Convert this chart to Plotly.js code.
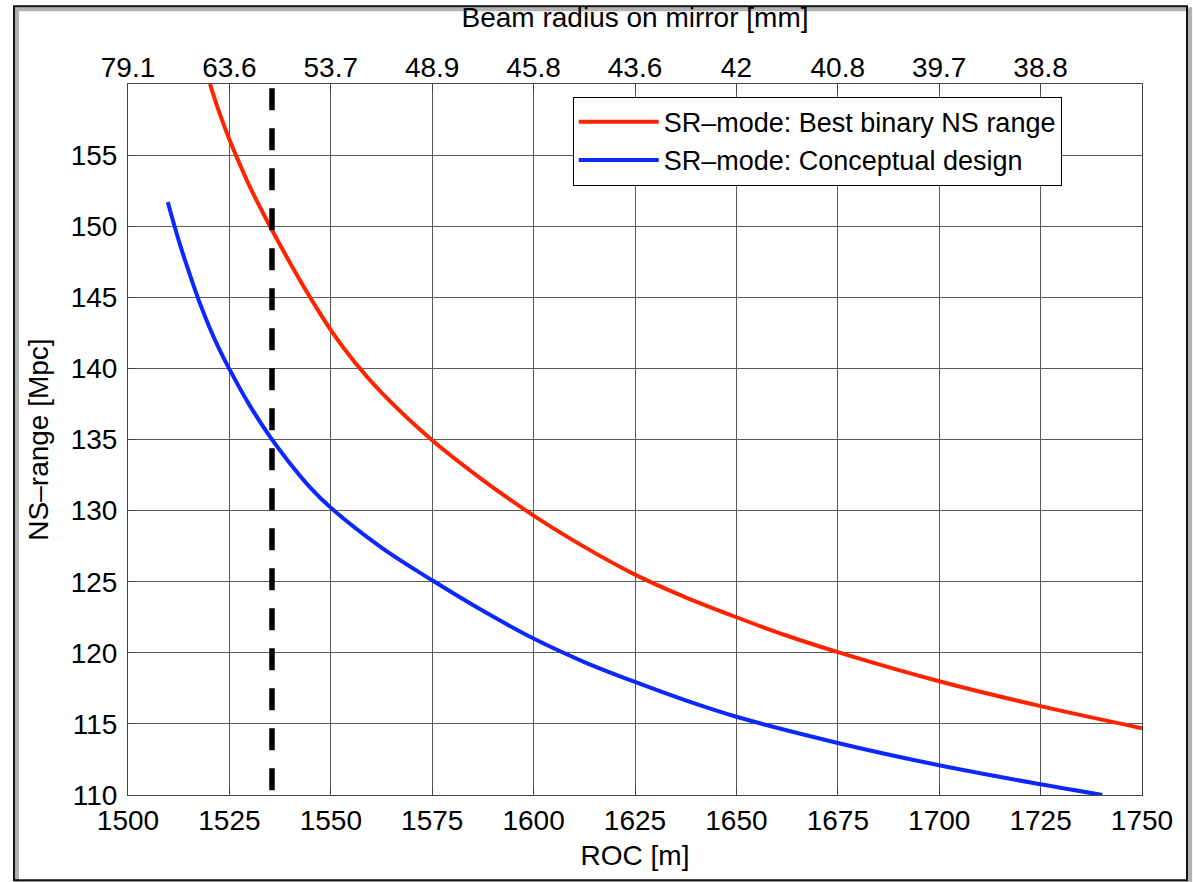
<!DOCTYPE html>
<html><head><meta charset="utf-8">
<script src="https://cdn.plot.ly/plotly-3.0.1.min.js"></script>
<style>html,body{margin:0;padding:0;background:#fff}</style>
</head><body><div id="chart" style="width:1193px;height:882px"></div>
<script>
// ROC [m] vs NS-range [Mpc]
const rocBest = [1520.2, 1522.5, 1525, 1527.5, 1530, 1535, 1540, 1545, 1550, 1556, 1562.5, 1575, 1587.5, 1600, 1612.5, 1625, 1637.5, 1650, 1662.5, 1675, 1700, 1725, 1750];
const nsBest  = [160.0, 158.0, 156.1, 154.4, 152.8, 150.0, 147.4, 144.95, 142.7, 140.4, 138.3, 134.95, 132.15, 129.65, 127.45, 125.5, 123.9, 122.5, 121.2, 120.05, 118.0, 116.25, 114.7];
const rocConcept = [1509.8, 1512.5, 1515, 1517.5, 1520, 1522.5, 1525, 1530, 1535, 1540, 1545, 1550, 1562.5, 1575, 1587.5, 1600, 1612.5, 1625, 1637.5, 1650, 1675, 1700, 1725, 1740.2];
const nsConcept  = [151.7, 149.0, 146.8, 144.75, 142.95, 141.35, 139.95, 137.4, 135.2, 133.3, 131.6, 130.2, 127.4, 125.1, 122.95, 121.0, 119.35, 117.95, 116.65, 115.5, 113.66, 112.09, 110.75, 110.0];
const markerRoc = [1535.5, 1535.5];
const markerNs  = [159.7, 110];
const xTickVals = [1500, 1525, 1550, 1575, 1600, 1625, 1650, 1675, 1700, 1725, 1750];
const yTickVals = [110, 115, 120, 125, 130, 135, 140, 145, 150, 155];
const topTickVals = [1500, 1525, 1550, 1575, 1600, 1625, 1650, 1675, 1700, 1725];
const topTickText = ['79.1', '63.6', '53.7', '48.9', '45.8', '43.6', '42', '40.8', '39.7', '38.8'];
const seriesNames = ['SR\u2013mode: Best binary NS range', 'SR\u2013mode: Conceptual design'];

const FONT = 'Liberation Sans, Arial, Helvetica, sans-serif';
const traces = [
  {x: rocBest, y: nsBest, name: seriesNames[0], mode: 'lines', type: 'scatter',
   line: {color: 'rgb(255,36,0)', width: 4, shape: 'spline', smoothing: 1}},
  {x: rocConcept, y: nsConcept, name: seriesNames[1], mode: 'lines', type: 'scatter',
   line: {color: 'rgb(12,40,255)', width: 4, shape: 'spline', smoothing: 1}},
  {x: markerRoc, y: markerNs, xaxis: 'x2', mode: 'lines', type: 'scatter', showlegend: false,
   line: {color: '#000', width: 5.5, dash: '22px,18px'}, hoverinfo: 'skip'}
];

const axCommon = {
  showline: true, linecolor: '#444', linewidth: 1, mirror: true,
  ticks: 'inside', ticklen: 8, tickcolor: '#444', tickwidth: 1,
  showgrid: true, gridcolor: '#5a5a5a', gridwidth: 1, zeroline: false,
  tickfont: {family: FONT, size: 28, color: '#000'}
};

const layout = {
  width: 1193, height: 882,
  margin: {l: 128, r: 51, t: 84, b: 87},
  paper_bgcolor: '#fff', plot_bgcolor: '#fff',
  font: {family: FONT, size: 28, color: '#000'},
  xaxis: Object.assign({}, axCommon, {
    range: [1500, 1750], tickvals: xTickVals, ticklabelstandoff: 0,
    title: {text: 'ROC [m]', font: {family: FONT, size: 28}, standoff: 10}
  }),
  xaxis2: Object.assign({}, axCommon, {
    overlaying: 'x', side: 'top', range: [1500, 1750], showgrid: false,
    tickvals: topTickVals, ticktext: topTickText, showline: false, mirror: false,
    title: {text: 'Beam radius on mirror [mm]', font: {family: FONT, size: 28}, standoff: 16}
  }),
  yaxis: Object.assign({}, axCommon, {
    range: [110, 160], tickvals: yTickVals, ticklabelstandoff: 4,
    title: {text: 'NS\u2013range [Mpc]', font: {family: FONT, size: 28}, standoff: 13}
  }),
  legend: {
    x: 0.4386, y: 0.982, xanchor: 'left', yanchor: 'top',
    bgcolor: '#fff', bordercolor: '#000', borderwidth: 1,
    font: {family: FONT, size: 27, color: '#000'}, itemwidth: 80, tracegroupgap: 0
  },
  shapes: [
    {type: 'rect', xref: 'paper', yref: 'paper', x0: -0.1095, x1: 1.0474, y0: -0.124, y1: 1.1053,
     line: {color: 'rgba(0,0,0,0.3)', width: 4}, layer: 'below'},
    {type: 'rect', xref: 'paper', yref: 'paper', x0: -0.1124, x1: 1.0444, y0: -0.12, y1: 1.1093,
     line: {color: '#111', width: 2}, layer: 'below'}
  ],
  showlegend: true
};

Plotly.newPlot('chart', traces, layout, {staticPlot: true, displayModeBar: false});
</script>
</body></html>
